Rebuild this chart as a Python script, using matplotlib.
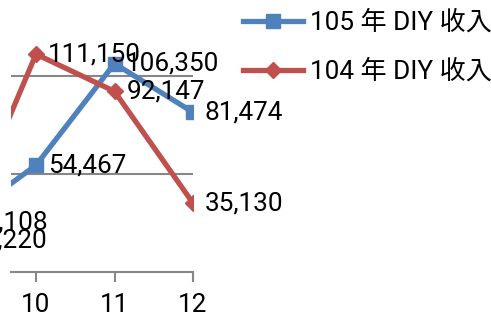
import matplotlib
matplotlib.use('Agg')
import matplotlib.pyplot as plt

# 月份與收入 (圖左側被裁切, 9 月只看得到標籤尾巴)
months = [9, 10, 11, 12]
income_105 = [25108, 54467, 106350, 81474]
income_104 = [16220, 111150, 92147, 35130]
series_names = ['105 年 DIY 收入', '104 年 DIY 收入']
tick_labels = ['10', '11', '12']

plt.rcParams['font.family'] = ['Roboto', 'Noto Sans CJK TC', 'DejaVu Sans']

blue = '#4F81BD'
red = '#C0504D'
grid_c = '#878787'
fs = 18.8

fig = plt.figure(figsize=(4.91, 3.18), dpi=100)
# 軸區域延伸到圖外 (原圖被裁切)
ax = fig.add_axes([11 / 491, 46 / 318, 182 / 491, 294 / 318])

ax.plot(months, income_105, color=blue, lw=3.8, marker='s', ms=10,
        label=series_names[0], zorder=3)
ax.plot(months, income_104, color=red, lw=3.8, marker='D', ms=8.5,
        label=series_names[1], zorder=3)

for x, v in zip(months, income_105):
    ax.annotate(f'{v:,}', (x, v), xytext=(8.5, 0), textcoords='offset points',
                ha='left', va='center', fontsize=fs, annotation_clip=False)
for x, v in zip(months, income_104):
    ax.annotate(f'{v:,}', (x, v), xytext=(8.5, 0), textcoords='offset points',
                ha='left', va='center', fontsize=fs, annotation_clip=False)

ax.set_xlim(10 - 25 / 78.5, 12)
ax.set_ylim(0, 150000)
ax.set_xticks([10, 11, 12])
ax.set_xticklabels(tick_labels, fontsize=fs)
ax.set_yticks([50000, 100000])
ax.tick_params(axis='y', left=False, labelleft=False)
ax.tick_params(axis='x', length=7, width=1.5, color=grid_c, pad=8)
ax.grid(axis='y', color=grid_c, lw=1.5)
ax.set_axisbelow(True)
for s in ['top', 'left', 'right']:
    ax.spines[s].set_visible(False)
ax.spines['bottom'].set_color(grid_c)
ax.spines['bottom'].set_linewidth(1.5)
ax.patch.set_visible(False)

fig.legend(loc='upper left', bbox_to_anchor=(238 / 491, 1 - 5 / 318),
           frameon=False, fontsize=fs, handlelength=2.3, handletextpad=0.25,
           labelspacing=0.95, borderaxespad=0.0, borderpad=0.2)

fig.savefig('out.png', dpi=100)
